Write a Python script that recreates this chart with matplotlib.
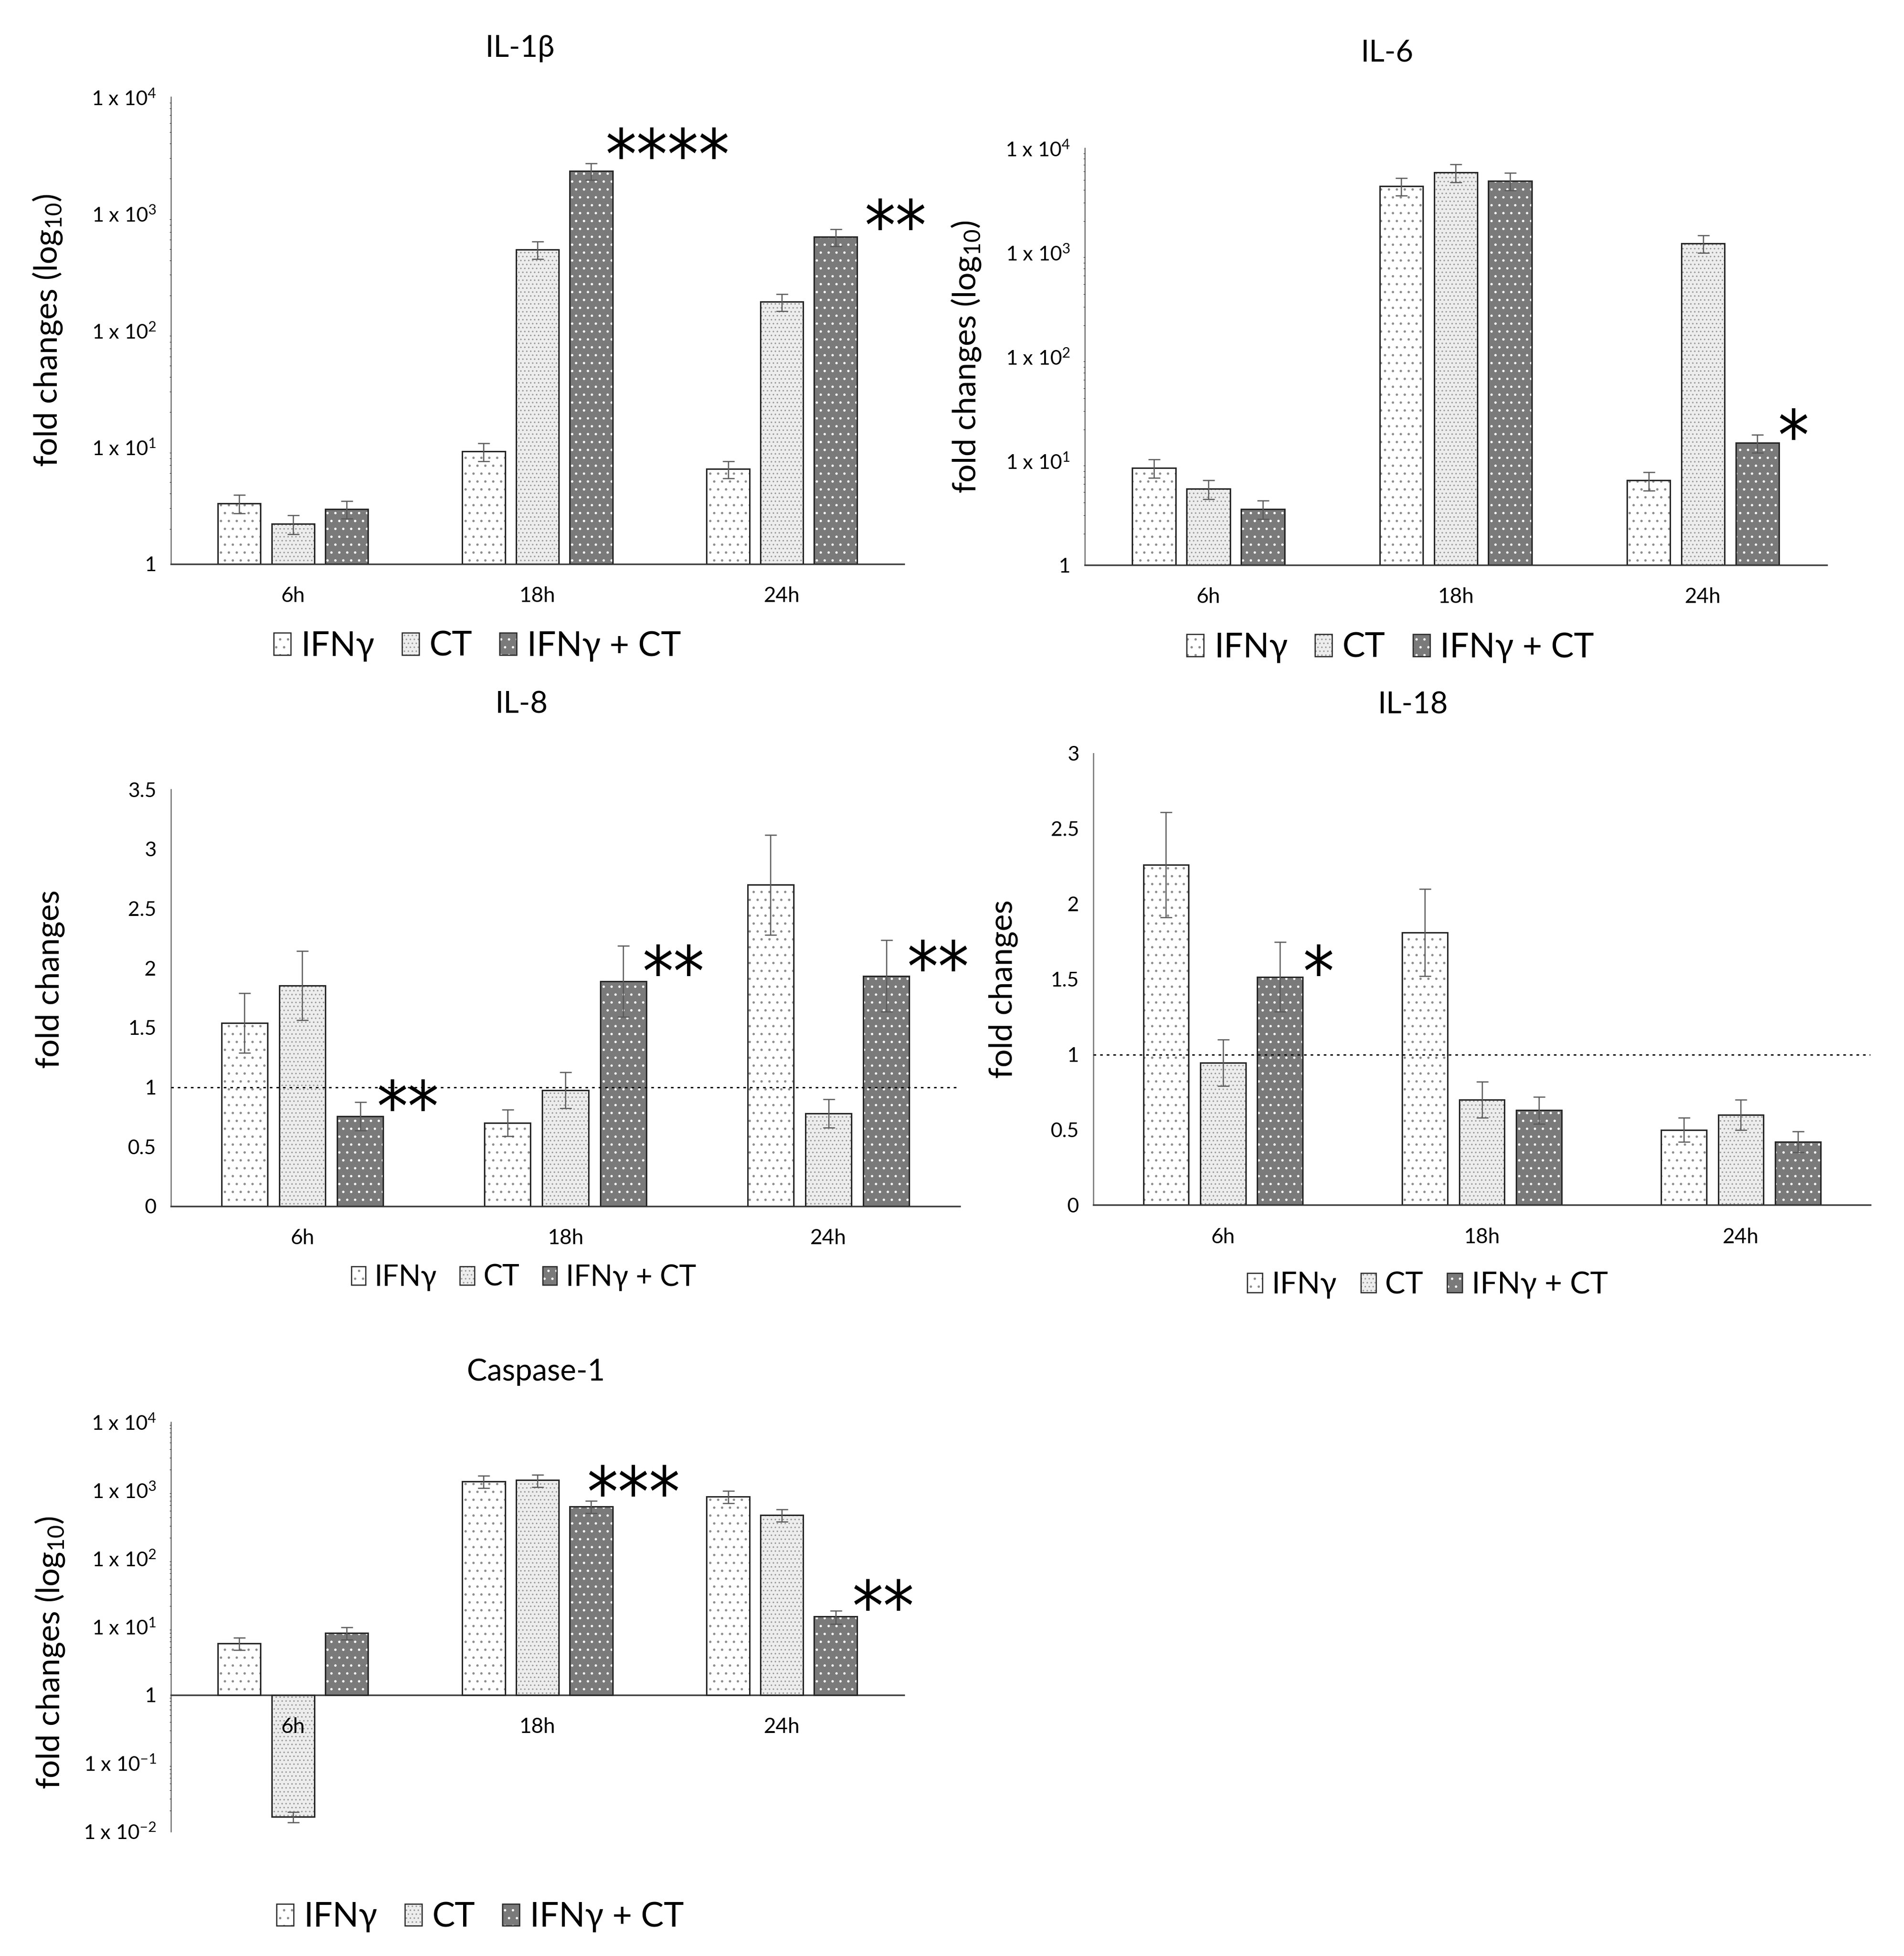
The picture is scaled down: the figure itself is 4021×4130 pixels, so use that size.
import numpy as np
import matplotlib
matplotlib.use('Agg')
import matplotlib.pyplot as plt
from matplotlib.patches import Patch
from matplotlib.legend_handler import HandlerTuple

plt.rcParams['font.family'] = ['Lato', 'DejaVu Sans']
plt.rcParams['mathtext.fontset'] = 'custom'
plt.rcParams['mathtext.rm'] = 'Lato'
plt.rcParams['hatch.linewidth'] = 1.2

# data
times = ['6h', '18h', '24h']
groups = ['IFNγ', 'CT', 'IFNγ + CT']

il1b_ifn = [3.3, 9.2, 6.5]
il1b_ct = [2.2, 495, 176]
il1b_combo = [2.95, 2340, 635]
il1b_ifn_err = [0.6, 1.6, 1.1]
il1b_ct_err = [0.4, 85, 30]
il1b_combo_err = [0.5, 380, 105]

il6_ifn = [8.6, 4370, 6.5]
il6_ct = [5.4, 5900, 1230]
il6_combo = [3.46, 4900, 14.9]
il6_ifn_err = [1.7, 850, 1.3]
il6_ct_err = [1.1, 1150, 240]
il6_combo_err = [0.7, 950, 2.9]

il8_ifn = [1.54, 0.70, 2.70]
il8_ct = [1.855, 0.975, 0.78]
il8_combo = [0.755, 1.89, 1.935]
il8_ifn_err = [0.25, 0.11, 0.42]
il8_ct_err = [0.29, 0.15, 0.12]
il8_combo_err = [0.12, 0.30, 0.30]

il18_ifn = [2.26, 1.81, 0.50]
il18_ct = [0.945, 0.70, 0.60]
il18_combo = [1.516, 0.63, 0.42]
il18_ifn_err = [0.35, 0.29, 0.08]
il18_ct_err = [0.155, 0.12, 0.10]
il18_combo_err = [0.23, 0.09, 0.07]

casp_ifn = [5.7, 1350, 810]
casp_ct = [0.0162, 1400, 435]
casp_combo = [8.1, 580, 14]
casp_ifn_err = [1.2, 280, 170]
casp_ct_err = [0.0028, 290, 90]
casp_combo_err = [1.7, 120, 3]

log_ticks = [1e-2, 1e-1, 1, 10, 100, 1000, 10000]
log_labels = [r'1 x 10$\mathregular{^{-2}}$', r'1 x 10$\mathregular{^{-1}}$', '1',
              r'1 x 10$\mathregular{^{1}}$', r'1 x 10$\mathregular{^{2}}$',
              r'1 x 10$\mathregular{^{3}}$', r'1 x 10$\mathregular{^{4}}$']

# bar styles
faces = ['white', '#ededed', '#7a7a7a']
hatch_colors = ['#8c8c8c', '#9a9a9a', 'white']
hatches = ['.', '..', '.']
offsets = [-0.22, 0.0, 0.22]
bar_w = 0.175
edge = '#262626'

fig = plt.figure(figsize=(40.21, 41.30), dpi=100)


def draw_panel(rect, series, errors, log, title, title_xy, ylabel, ylabel_xy,
               legend_xy, legend_fs, stars):
    ax = fig.add_axes(rect)
    ax.set_axisbelow(False)
    x = np.arange(len(times))
    if log:
        ax.set_yscale('log')
    for k in range(3):
        vals = np.array(series[k])
        pos = x + offsets[k]
        base = 1 if log else 0
        ax.bar(pos, vals - base, bar_w, bottom=base, color=faces[k],
               edgecolor=hatch_colors[k], linewidth=0, hatch=hatches[k], zorder=2)
        ax.bar(pos, vals - base, bar_w, bottom=base, facecolor='none',
               edgecolor=edge, linewidth=2.2, zorder=3)
        ax.errorbar(pos, vals, yerr=errors[k], fmt='none', ecolor='#5a5a5a',
                    elinewidth=1.8, capsize=9, capthick=1.8, zorder=4)
    ax.set_xlim(-0.5, 2.5)
    ax.set_xticks(x)
    ax.set_xticklabels(times)
    for side in ['top', 'right']:
        ax.spines[side].set_visible(False)
    ax.spines['left'].set_color('#7f7f7f')
    ax.spines['left'].set_linewidth(2)
    ax.spines['bottom'].set_color('#404040')
    ax.spines['bottom'].set_linewidth(2.5)
    ax.tick_params(axis='both', length=0)
    ax.tick_params(axis='y', labelsize=31, pad=22)
    ax.tick_params(axis='x', labelsize=32, pad=34)
    ax.set_ylabel(ylabel, fontsize=49, va='center')
    ax.yaxis.set_label_coords(*ylabel_xy)
    ax.set_title(title, fontsize=46, x=title_xy[0], y=title_xy[1], va='center')
    for sx, sy, s in stars:
        ax.annotate(s, (sx, sy), xytext=(0, -25), textcoords='offset points',
                    fontsize=105, family='DejaVu Sans', fontstretch='condensed',
                    ha='center', va='center', zorder=5)
    handles = [(Patch(facecolor=faces[k], edgecolor=hatch_colors[k], linewidth=0,
                      hatch=hatches[k]),
                Patch(facecolor='none', edgecolor=edge, linewidth=1.8))
               for k in range(3)]
    ax.legend(handles, groups, handler_map={tuple: HandlerTuple(ndivide=1)},
              loc='center', bbox_to_anchor=legend_xy, ncol=3, frameon=False,
              fontsize=legend_fs, handlelength=0.5, handleheight=0.62,
              handletextpad=0.3, columnspacing=0.8)
    ax.patch.set_alpha(0)
    return ax


log_label = r'fold changes (log$\mathregular{_{10}}$)'

# IL-1beta
ax1 = draw_panel([0.0897, 0.7117, 0.3851, 0.2386],
                 [il1b_ifn, il1b_ct, il1b_combo],
                 [il1b_ifn_err, il1b_ct_err, il1b_combo_err], True,
                 'IL-1β', (0.476, 1.096), log_label, (-0.168, 0.5),
                 (0.418, -0.176), 52,
                 [(1.531, 4020, '****'), (2.464, 988, '**')])
ax1.set_ylim(1, 1e4)
ax1.set_yticks(log_ticks[2:])
ax1.set_yticklabels(log_labels[2:])

# IL-6
ax2 = draw_panel([0.5697, 0.7111, 0.3897, 0.2130],
                 [il6_ifn, il6_ct, il6_combo],
                 [il6_ifn_err, il6_ct_err, il6_combo_err], True,
                 'IL-6', (0.407, 1.22), log_label, (-0.160, 0.5),
                 (0.412, -0.198), 52,
                 [(2.364, 22.5, '*')])
ax2.set_ylim(1, 1e4)
ax2.set_yticks(log_ticks[2:])
ax2.set_yticklabels(log_labels[2:])

# IL-8
ax3 = draw_panel([0.0897, 0.3833, 0.4145, 0.2130],
                 [il8_ifn, il8_ct, il8_combo],
                 [il8_ifn_err, il8_ct_err, il8_combo_err], False,
                 'IL-8', (0.444, 1.195), 'fold changes', (-0.153, 0.545),
                 (0.447, -0.171), 44,
                 [(0.40, 0.933, '**'), (1.41, 2.065, '**'), (2.415, 2.107, '**')])
ax3.set_ylim(0, 3.5)
ax3.set_yticks([0, 0.5, 1, 1.5, 2, 2.5, 3, 3.5])
ax3.set_yticklabels(['0', '0.5', '1', '1.5', '2', '2.5', '3', '3.5'])
ax3.axhline(1, color='black', linestyle=(0, (2, 3)), linewidth=2, zorder=4)

# IL-18
ax4 = draw_panel([0.5743, 0.3839, 0.4080, 0.2309],
                 [il18_ifn, il18_ct, il18_combo],
                 [il18_ifn_err, il18_ct_err, il18_combo_err], False,
                 'IL-18', (0.411, 1.099), 'fold changes', (-0.116, 0.478),
                 (0.430, -0.177), 46,
                 [(0.367, 1.624, '*')])
ax4.set_ylim(0, 3)
ax4.set_yticks([0, 0.5, 1, 1.5, 2, 2.5, 3])
ax4.set_yticklabels(['0', '0.5', '1', '1.5', '2', '2.5', '3'])
ax4.axhline(1, color='black', linestyle=(0, (2, 3)), linewidth=2, zorder=4)

# Caspase-1
ax5 = draw_panel([0.0897, 0.0638, 0.3851, 0.2092],
                 [casp_ifn, casp_ct, casp_combo],
                 [casp_ifn_err, casp_ct_err, casp_combo_err], True,
                 'Caspase-1', (0.498, 1.113), log_label, (-0.165, 0.436),
                 (0.422, -0.210), 52,
                 [(1.393, 1380, '***'), (2.413, 29, '**')])
ax5.set_ylim(1e-2, 1e4)
ax5.set_yticks(log_ticks)
ax5.set_yticklabels(log_labels)
ax5.spines['bottom'].set_position(('data', 1))

fig.savefig('out.png', dpi=100, facecolor='white')
